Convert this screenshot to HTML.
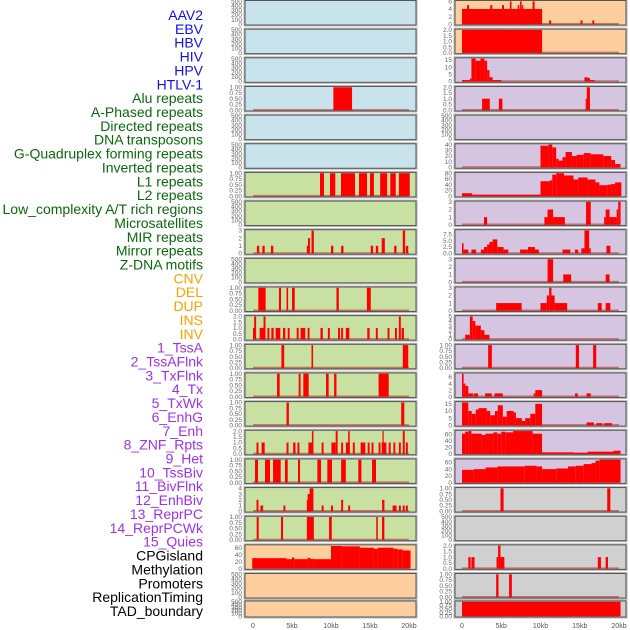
<!DOCTYPE html>
<html><head><meta charset="utf-8"><style>
html,body{margin:0;padding:0;background:#fff;}
svg{display:block;font-family:"Liberation Sans",sans-serif;}
</style></head><body>
<svg id="chart" width="630" height="630" viewBox="0 0 630 630"></svg>
<script>
// ---- Data ----
const trackLabels = ["AAV2","EBV","HBV","HIV","HPV","HTLV-1","Alu repeats","A-Phased repeats","Directed repeats","DNA transposons","G-Quadruplex forming repeats","Inverted repeats","L1 repeats","L2 repeats","Low_complexity A/T rich regions","Microsatellites","MIR repeats","Mirror repeats","Z-DNA motifs","CNV","DEL","DUP","INS","INV","1_TssA","2_TssAFlnk","3_TxFlnk","4_Tx","5_TxWk","6_EnhG","7_Enh","8_ZNF_Rpts","9_Het","10_TssBiv","11_BivFlnk","12_EnhBiv","13_ReprPC","14_ReprPCWk","15_Quies","CPGisland","Methylation","Promoters","ReplicationTiming","TAD_boundary"];
const labelGroups = [0,0,0,0,0,0,1,1,1,1,1,1,1,1,1,1,1,1,1,2,2,2,2,2,3,3,3,3,3,3,3,3,3,3,3,3,3,3,3,4,4,4,4,4];
const groupColors = ["#1010ee","#0a6a0a","#ffa000","#a030f0","#000000"];
const xTickValues = [0,5,10,15,20];
const xTickLabels = ["0","5kb","10kb","15kb","20kb"];
const leftBg = ["#c8e3eb","#c8e3eb","#c8e3eb","#c8e3eb","#c8e3eb","#c8e3eb","#c8e0a2","#c8e0a2","#c8e0a2","#c8e0a2","#c8e0a2","#c8e0a2","#c8e0a2","#c8e0a2","#c8e0a2","#c8e0a2","#c8e0a2","#c8e0a2","#c8e0a2","#fdcf9f","#fdcf9f","#fdcf9f"];
const rightBg = ["#fdcf9f","#fdcf9f","#d5c5e1","#d5c5e1","#d5c5e1","#d5c5e1","#d5c5e1","#d5c5e1","#d5c5e1","#d5c5e1","#d5c5e1","#d5c5e1","#d5c5e1","#d5c5e1","#d5c5e1","#d5c5e1","#d5c5e1","#d0d0d0","#d0d0d0","#d0d0d0","#d0d0d0","#d0d0d0"];
// y-axis: [max, tick step, decimals]
const leftAxis = [[500,100,0],[500,100,0],[500,100,0],[1,0.25,2],[500,100,0],[500,100,0],[1,0.25,2],[500,100,0],[3,1,0],[500,100,0],[1,0.25,2],[2,0.5,1],[1,0.25,2],[1,0.25,2],[1,0.25,2],[2,0.5,1],[1,0.25,2],[4,1,0],[1,0.25,2],[66,20,0],[500,100,0],[500,100,0]];
const rightAxis = [[6,2,0],[2,0.5,1],[16,5,0],[2,0.5,1],[500,100,0],[40,10,0],[80,20,0],[3,1,0],[9,2.5,1],[3,1,0],[3,1,0],[5,1,0],[1,0.25,2],[7,2,0],[16,5,0],[70,20,0],[68,20,0],[1,0.25,2],[500,100,0],[2,0.5,1],[1,0.25,2],[1,0.25,2]];
// bars: [startKb, endKb, value]
const leftSeries = [
 [],[],[],
 [[10.3,12.7,1]],
 [],[],
 [[8.59,9.1,1],[9.87,10.55,1],[11.28,13.08,1],[13.59,14.62,1],[15.0,15.5,1],[16.3,17.2,1],[17.6,18.3,1],[18.7,20.1,1]],
 [],
 [[0.5,0.8,1],[1.2,1.5,1],[2.3,2.6,1],[6.9,7.2,1],[7.05,7.3,2],[7.5,7.8,3],[10.0,10.3,1],[11.3,11.6,1],[15.1,15.4,1],[15.75,16.05,1],[16.5,16.9,2],[18.1,18.4,1],[19.2,19.5,3],[19.6,19.9,1]],
 [],
 [[0.68,1.62,1],[3.33,3.59,1],[4.3,4.5,1],[5.0,5.35,1],[10.7,11.0,1],[14.6,15.1,1]],
 [[0.0,0.35,1],[0.15,0.4,2],[0.85,1.2,1],[1.35,1.6,2],[1.1,1.6,1],[1.85,2.1,1],[2.35,2.65,1],[2.9,3.5,1],[3.85,4.15,1],[4.45,4.7,1],[5.6,5.85,1],[6.1,6.7,1],[7.0,7.25,1],[8.65,8.95,1],[9.6,9.85,1],[10.9,11.15,1],[11.3,11.55,1],[11.9,12.35,1],[14.65,14.95,1],[15.75,16.0,1],[17.25,17.5,1],[18.2,18.45,1],[18.7,18.95,2],[19.05,19.35,1]],
 [[3.64,4.0,1],[7.5,7.7,1],[19.2,19.9,1]],
 [[3.08,3.42,1],[5.86,6.1,1],[6.45,7.14,1],[9.36,9.7,1],[10.4,10.7,1],[16.1,17.4,1]],
 [[4.3,4.6,1],[19.0,19.4,1]],
 [[0.45,0.7,1],[1.1,1.5,1],[4.3,4.55,1],[5.15,5.45,1],[5.7,5.95,1],[7.1,7.7,1],[7.55,7.75,2],[8.8,9.05,1],[10.05,10.6,1],[10.6,10.85,2],[11.3,11.55,1],[11.9,12.4,1],[12.2,12.4,2],[12.8,13.05,1],[13.8,14.4,1],[14.7,14.95,1],[15.2,15.45,1],[16.1,16.35,1],[16.5,17.1,1],[16.6,16.75,2],[17.4,17.65,1],[18.0,18.25,1],[18.7,18.95,1],[19.2,19.45,2],[19.6,19.85,1]],
 [[0.26,0.64,1],[1.54,2.18,1],[2.57,3.55,1],[4.1,4.45,1],[5.77,6.03,1],[8.25,8.72,1],[9.53,10.13,1],[11.3,11.9,1],[13.5,13.9,1],[15.26,15.77,1]],
 [[0.45,0.7,2],[0.95,1.3,1],[3.9,4.15,1],[6.9,7.2,2],[7.0,7.3,3],[7.25,7.75,4],[8.8,9.05,1],[10.0,10.25,1],[11.3,11.55,2],[12.2,12.45,1],[16.55,16.85,2],[17.9,18.4,1],[18.7,18.95,1],[19.2,19.45,1],[19.6,19.85,1]],
 [[0.47,0.73,1],[3.59,3.85,1],[6.9,7.8,1],[9.75,10.1,1],[15.8,16.0,1],[16.54,16.84,1]],
 [[-0.1,4.3,30],[4.3,5.0,27],[5.0,5.3,32],[5.3,7.0,27],[7.0,7.3,31],[7.3,7.7,28],[7.7,10.0,27],[10.0,11.4,65],[11.4,13.7,64],[13.7,15.5,60],[15.5,16.0,57],[16.0,18.0,60],[18.0,18.5,57],[18.5,19.2,55],[19.2,20.2,52]],
 [],[]
];
const rightSeries = [
 [[0,10.2,4],[0.65,0.9,5],[3.6,3.85,5],[5.1,5.35,5],[6.1,6.3,6],[7.1,7.3,5],[7.4,7.6,6],[7.65,7.8,5],[9.0,9.25,6],[11.1,11.35,1],[15.1,15.35,1],[16.6,16.85,1]],
 [[0,10.2,2]],
 [[0,1.0,1],[1.0,1.2,2],[1.2,1.75,16],[1.75,2.35,14.5],[2.35,2.85,16],[2.85,3.2,14.5],[3.2,3.5,8],[3.5,3.9,3],[3.9,4.2,1],[4.2,5.0,1],[15.6,16.0,3],[16.0,16.3,2.5],[16.3,16.9,1]],
 [[2.56,3.54,1],[4.7,5.15,1],[15.75,15.9,1],[15.9,16.3,2]],
 [],
 [[10,11,38],[11,11.5,40],[11.5,12,35],[12,12.3,15],[12.3,12.8,12],[12.8,13.2,18],[13.2,14,27],[14,14.6,20],[14.6,15.5,22],[15.5,16.4,25],[16.4,18,23],[18,19,20],[19,19.5,13],[19.5,20.2,6]],
 [[0,1.3,10],[1.3,10,5],[10,11.2,52],[11.2,11.5,55],[11.5,12,75],[12,13,80],[13,14.2,72],[14.2,14.8,58],[14.8,16,65],[16,17,58],[17,17.5,48],[17.5,18.5,38],[18.5,19,40],[19,19.5,42],[19.5,20.3,48]],
 [[2.8,3.2,1],[10.5,10.9,1],[10.9,11.6,2],[11.6,13.1,1],[15.8,16.4,3],[18.1,18.3,1],[18.3,18.8,2],[18.8,19.7,1],[19.7,19.9,2],[19.9,20.2,3]],
 [[0,0.2,4],[0.2,0.8,1.5],[1.2,1.8,1.5],[2.4,2.8,1.5],[2.8,3.2,2.5],[3.2,3.5,3.5],[3.5,3.9,4.5],[3.9,4.5,5.5],[4.5,5.3,2.5],[5.3,5.9,1.5],[7.4,8.4,1.5],[8.4,9.3,2.5],[9.3,9.8,1.5],[12.8,13.8,1.5],[14.4,14.8,1.5],[15.2,15.6,2],[15.6,16.2,9],[16.2,16.4,2],[18.4,18.9,3]],
 [[10.9,11.6,3],[12.9,13.9,1],[18.3,18.8,1]],
 [[4.35,7.6,1],[10.0,10.8,1],[10.8,11.1,2],[11.1,11.4,3],[11.4,11.8,2],[11.8,13.4,1],[17.3,17.8,1],[18.3,18.9,1]],
 [[0.4,1.0,1],[1.0,1.36,5],[1.36,1.7,4],[1.7,2.4,3],[2.4,2.86,2],[2.86,3.5,1]],
 [[3.33,3.8,1],[14.5,14.9,1],[16.7,17.1,1]],
 [[0,0.2,7],[0.2,0.43,4],[0.43,0.8,3.3],[0.8,1.45,1],[1.54,2.05,1],[2.94,3.8,1],[4.14,5.2,1],[9.13,9.34,1],[9.34,10.2,2],[14.4,14.75,1],[15.86,16.4,1]],
 [[0,0.8,16],[0.8,1.24,10],[1.24,1.75,8],[1.75,2.1,11],[2.1,3.15,12],[3.15,3.6,10],[3.6,4.2,7],[4.2,4.56,10],[4.56,5.2,14],[5.2,5.7,6],[5.7,6.57,10],[6.57,6.87,9],[6.87,7.63,5],[7.63,8.06,3],[8.06,8.7,5],[8.7,9.34,8],[9.34,10.2,15],[15.86,16.8,2],[17.1,17.9,1.5],[18.1,19.1,1.5]],
 [[0,0.4,62],[0.4,0.8,68],[0.8,1.2,70],[1.2,2.5,62],[2.5,3,58],[3,4,62],[4,4.5,66],[4.5,5,62],[5,5.5,68],[5.5,6.5,66],[6.5,9,70],[9,10.2,62],[10.2,14.2,5],[14.2,16,4],[16,19.3,7],[19.3,20.2,10]],
 [[0,1.5,38],[1.5,3,40],[3,4.5,45],[4.5,8,48],[8,9.5,50],[9.5,10.2,48],[10.2,12,40],[12,13.5,42],[13.5,14.5,48],[14.5,15.5,50],[15.5,16.5,55],[16.5,17,58],[17,17.5,65],[17.5,20.2,68]],
 [[4.9,5.3,1],[18.5,18.9,1]],
 [],
 [[0.8,1.1,1],[1.2,1.6,1],[4.4,4.6,1],[4.6,4.9,2],[4.9,5.4,1],[17.3,17.7,1],[18.3,18.6,1]],
 [[4.35,4.65,1],[6.0,6.35,1]],
 [[0,20.2,1]]
];

// ---- Drawing ----
const NS = "http://www.w3.org/2000/svg";
const svg = document.getElementById("chart");
function mk(tag, attrs, parent) {
  const e = document.createElementNS(NS, tag);
  for (const k in attrs) e.setAttribute(k, attrs[k]);
  (parent || svg).appendChild(e);
  return e;
}
const cols = [
  {x0: 245, x1: 416, zero: 253, perKb: 7.8, bg: leftBg, axis: leftAxis, data: leftSeries, side: "left"},
  {x0: 455, x1: 626, zero: 462, perKb: 7.85, bg: rightBg, axis: rightAxis, data: rightSeries, side: "right"}
];
function rowTop(i) { return i === 21 ? 601 : 0.5 + 28.65 * i; }
function rowH(i) { return i === 21 ? 16 : 24.5; }

// labels
trackLabels.forEach((t, i) => {
  const tx = mk("text", {x: 203, y: 20 + 13.86 * i, "text-anchor": "end", "font-size": "14", fill: groupColors[labelGroups[i]]});
  
  
  tx.textContent = t;
});

cols.forEach(c => {
  const xs = kb => c.zero + kb * c.perKb;
  for (let i = 0; i < 22; i++) {
    const top = rowTop(i), h = rowH(i), bot = top + h;
    const g = mk("g", {});
    
    
    mk("rect", {x: c.x0 - 0.5, y: top - 0.5, width: c.x1 - c.x0 + 1, height: h + 1, fill: "none", stroke: "#bbb", "stroke-width": 2}, g);
    mk("rect", {x: c.x0, y: top, width: c.x1 - c.x0, height: h, fill: c.bg[i]}, g);
    const [ymax, step, dec] = c.axis[i];
    const ys = v => bot - 0.8 - (v / ymax) * (h - 1.6);
    const bars = c.data[i];
    if (bars.length) {
      const bl = mk("line", {x1: xs(0), x2: xs(20), y1: bot - 1.2, y2: bot - 1.2, stroke: "rgba(190,30,30,0.55)", "stroke-width": 1.6}, g);
      
      
    }
    bars.forEach(b => {
      const r = mk("rect", {x: xs(b[0]), y: ys(b[2]), width: Math.max(1.2, xs(b[1]) - xs(b[0])), height: ys(0) - ys(b[2]), fill: "#ff0000"}, g);
      
      
    });
    mk("rect", {x: c.x0, y: top, width: c.x1 - c.x0, height: h, fill: "none", stroke: "#555", "stroke-width": 1}, g);
    for (let v = 0; v <= ymax + 1e-9; v += step) {
      const t = mk("text", {x: c.x0 - 3, y: ys(v) + 2.2, "text-anchor": "end", "font-size": "6.5", fill: "#666"}, g);
      
      
      t.textContent = v.toFixed(dec);
    }
  }
  xTickValues.forEach((v, k) => {
    const t = mk("text", {x: xs(v), y: 628, "text-anchor": "middle", "font-size": "7", fill: "#555"});
    
    
    t.textContent = xTickLabels[k];
  });
});
</script>
</body></html>
